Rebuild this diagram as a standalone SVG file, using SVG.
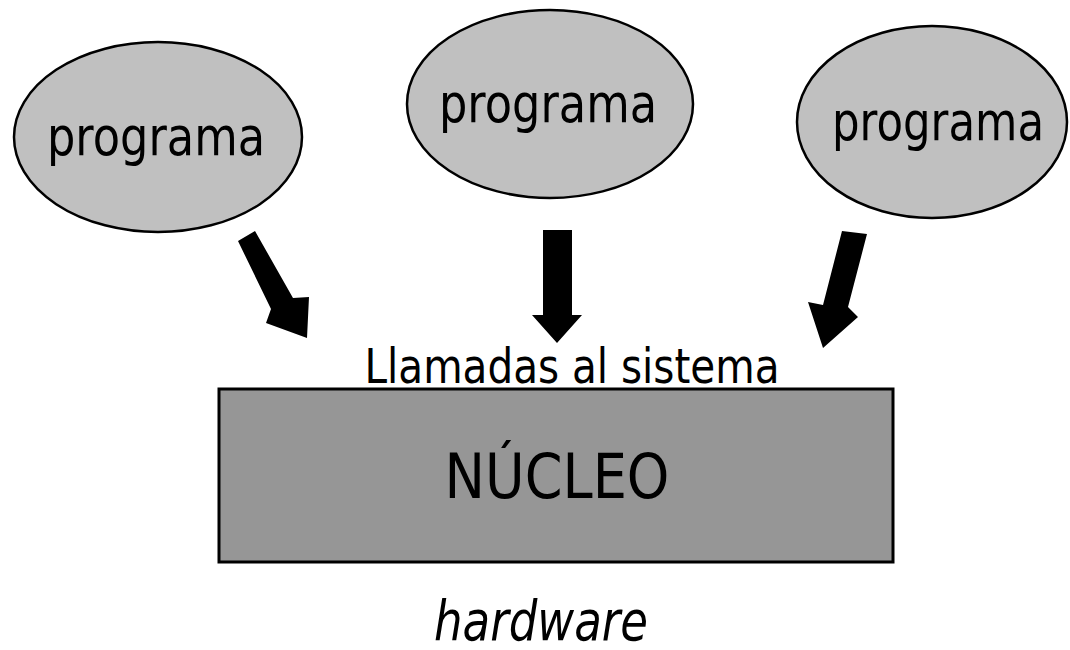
<svg xmlns="http://www.w3.org/2000/svg" width="1070" height="650" viewBox="0 0 1070 650">
  <style>
    .prog { fill: #c0c0c0; stroke: #000; stroke-width: 2.5; }
    .kernel { fill: #969696; stroke: #000; stroke-width: 3; }
    .lbl { font-family: "DejaVu Sans", Verdana, sans-serif; fill: #000; text-anchor: middle; }
    .arrow { fill: #000; stroke: none; }
  </style>
  <rect width="1070" height="650" fill="#fff"/>

  <!-- user programs -->
  <g id="programa-1">
    <ellipse class="prog" cx="158" cy="137" rx="144" ry="95"/>
    <text class="lbl" x="156" y="155" font-size="54" textLength="218" lengthAdjust="spacingAndGlyphs">programa</text>
  </g>
  <g id="programa-2">
    <ellipse class="prog" cx="550" cy="104" rx="143" ry="94"/>
    <text class="lbl" x="548" y="122" font-size="54" textLength="218" lengthAdjust="spacingAndGlyphs">programa</text>
  </g>
  <g id="programa-3">
    <ellipse class="prog" cx="932" cy="122" rx="135" ry="96"/>
    <text class="lbl" x="938" y="140" font-size="54" textLength="212" lengthAdjust="spacingAndGlyphs">programa</text>
  </g>

  <!-- system calls into the kernel -->
  <g id="connectors">
    <polygon class="arrow" points="238,241 255,231 293,298 309,297 307,338 266,323 271,309"/>
    <polygon class="arrow" points="543,230 572,230 572,315 582,315 557,343 532,315 543,315"/>
    <polygon class="arrow" points="842,231 867,234 848,307 858,317 823,348 808,302 823,305"/>
  </g>

  <g id="llamadas">
    <text class="lbl" x="572" y="383" font-size="48" textLength="415" lengthAdjust="spacingAndGlyphs">Llamadas al sistema</text>
  </g>

  <g id="nucleo">
    <rect class="kernel" x="219" y="389" width="674" height="173"/>
    <text class="lbl" x="557" y="498" font-size="62" textLength="225" lengthAdjust="spacingAndGlyphs">NÚCLEO</text>
  </g>

  <g id="hardware">
    <text class="lbl" x="541" y="640" font-size="56" font-style="italic" textLength="214" lengthAdjust="spacingAndGlyphs">hardware</text>
  </g>
</svg>
